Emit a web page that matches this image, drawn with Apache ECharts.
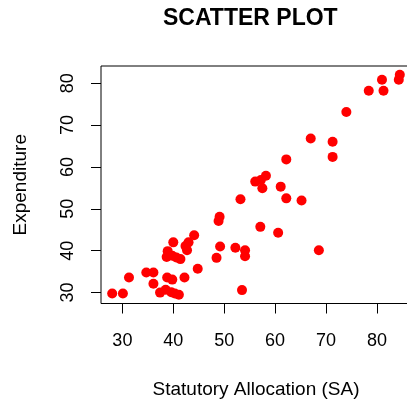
<!DOCTYPE html>
<html>
<head>
<meta charset="utf-8">
<script src="https://cdn.jsdelivr.net/npm/echarts@6/dist/echarts.min.js"></script>
<style>
    html, body { margin: 0; padding: 0; background: #fff; }
    #chart { width: 407px; height: 402px; }
</style>
</head>
<body>
<div id="chart"></div>
<script>
// values
var sa = [28.0, 30.1, 31.3, 34.7, 36.1, 36.1, 38.8, 39.8, 42.2, 37.4,
          38.5, 39.6, 41.1, 40.3, 44.8, 40.0, 43.0, 42.4, 42.7, 38.9,
          38.7, 39.8, 40.6, 41.4, 44.1, 49.1, 48.9, 48.5, 49.2, 52.2,
          54.1, 54.1, 53.5, 53.2, 57.1, 60.6, 56.1, 57.2, 58.2, 57.5,
          61.1, 62.2, 62.2, 65.2, 68.6, 67.0, 71.3, 71.3, 74.0, 78.4,
          81.0, 81.3, 84.5, 84.3];
var expenditure = [29.8, 29.8, 33.6, 34.8, 34.8, 32.1, 33.6, 33.1, 33.6, 30.0,
                   30.7, 30.1, 29.5, 29.8, 35.7, 42.0, 42.0, 41.1, 40.1, 39.9,
                   38.5, 38.8, 38.4, 38.0, 43.7, 48.1, 47.1, 38.3, 41.0, 40.7,
                   40.1, 38.7, 30.6, 52.3, 45.7, 44.3, 56.5, 56.9, 57.9, 54.9,
                   55.3, 61.8, 52.5, 52.0, 40.1, 66.8, 66.0, 62.4, 73.1, 78.2,
                   80.8, 78.2, 82.0, 80.8];
var ticks = [30, 40, 50, 60, 70, 80];

var points = sa.map(function (x, i) { return [x, expenditure[i]]; });
var font = 'Liberation Sans, Arial, sans-serif';

var chart = echarts.init(document.getElementById('chart'));
chart.setOption({
    animation: false,
    title: {
        text: 'SCATTER PLOT',
        left: 163,
        top: 7,
        padding: 0,
        textStyle: { fontFamily: font, fontSize: 23, fontWeight: 'bold', color: '#000' }
    },
    grid: {
        left: 101,
        top: 66,
        width: 310,
        height: 237.5,
        containLabel: false,
        outerBoundsMode: 'none',
        show: true,
        borderColor: '#000',
        borderWidth: 1,
        backgroundColor: 'transparent'
    },
    xAxis: {
        type: 'value',
        min: 25.8,
        max: 86.7,
        name: 'Statutory Allocation (SA)',
        nameLocation: 'middle',
        nameGap: 77,
        nameTextStyle: { fontFamily: font, fontSize: 19, color: '#000' },
        splitLine: { show: false },
        axisLine: { show: false },
        axisTick: { show: true, length: 10, customValues: ticks, lineStyle: { color: '#000' } },
        axisLabel: { customValues: ticks, margin: 29, fontFamily: font, fontSize: 18, color: '#000' }
    },
    yAxis: {
        type: 'value',
        min: 27.4,
        max: 84.1,
        name: 'Expenditure',
        nameLocation: 'middle',
        nameGap: 71,
        nameTextStyle: { fontFamily: font, fontSize: 19, color: '#000' },
        splitLine: { show: false },
        axisLine: { show: false },
        axisTick: { show: true, length: 10, customValues: ticks, lineStyle: { color: '#000' } },
        axisLabel: { customValues: ticks, rotate: 90, margin: 24, fontFamily: font, fontSize: 18, color: '#000' }
    },
    series: [{
        type: 'scatter',
        data: points,
        symbol: 'circle',
        symbolSize: 10,
        itemStyle: { color: '#ff0000', opacity: 1 }
    }]
});
</script>
</body>
</html>
